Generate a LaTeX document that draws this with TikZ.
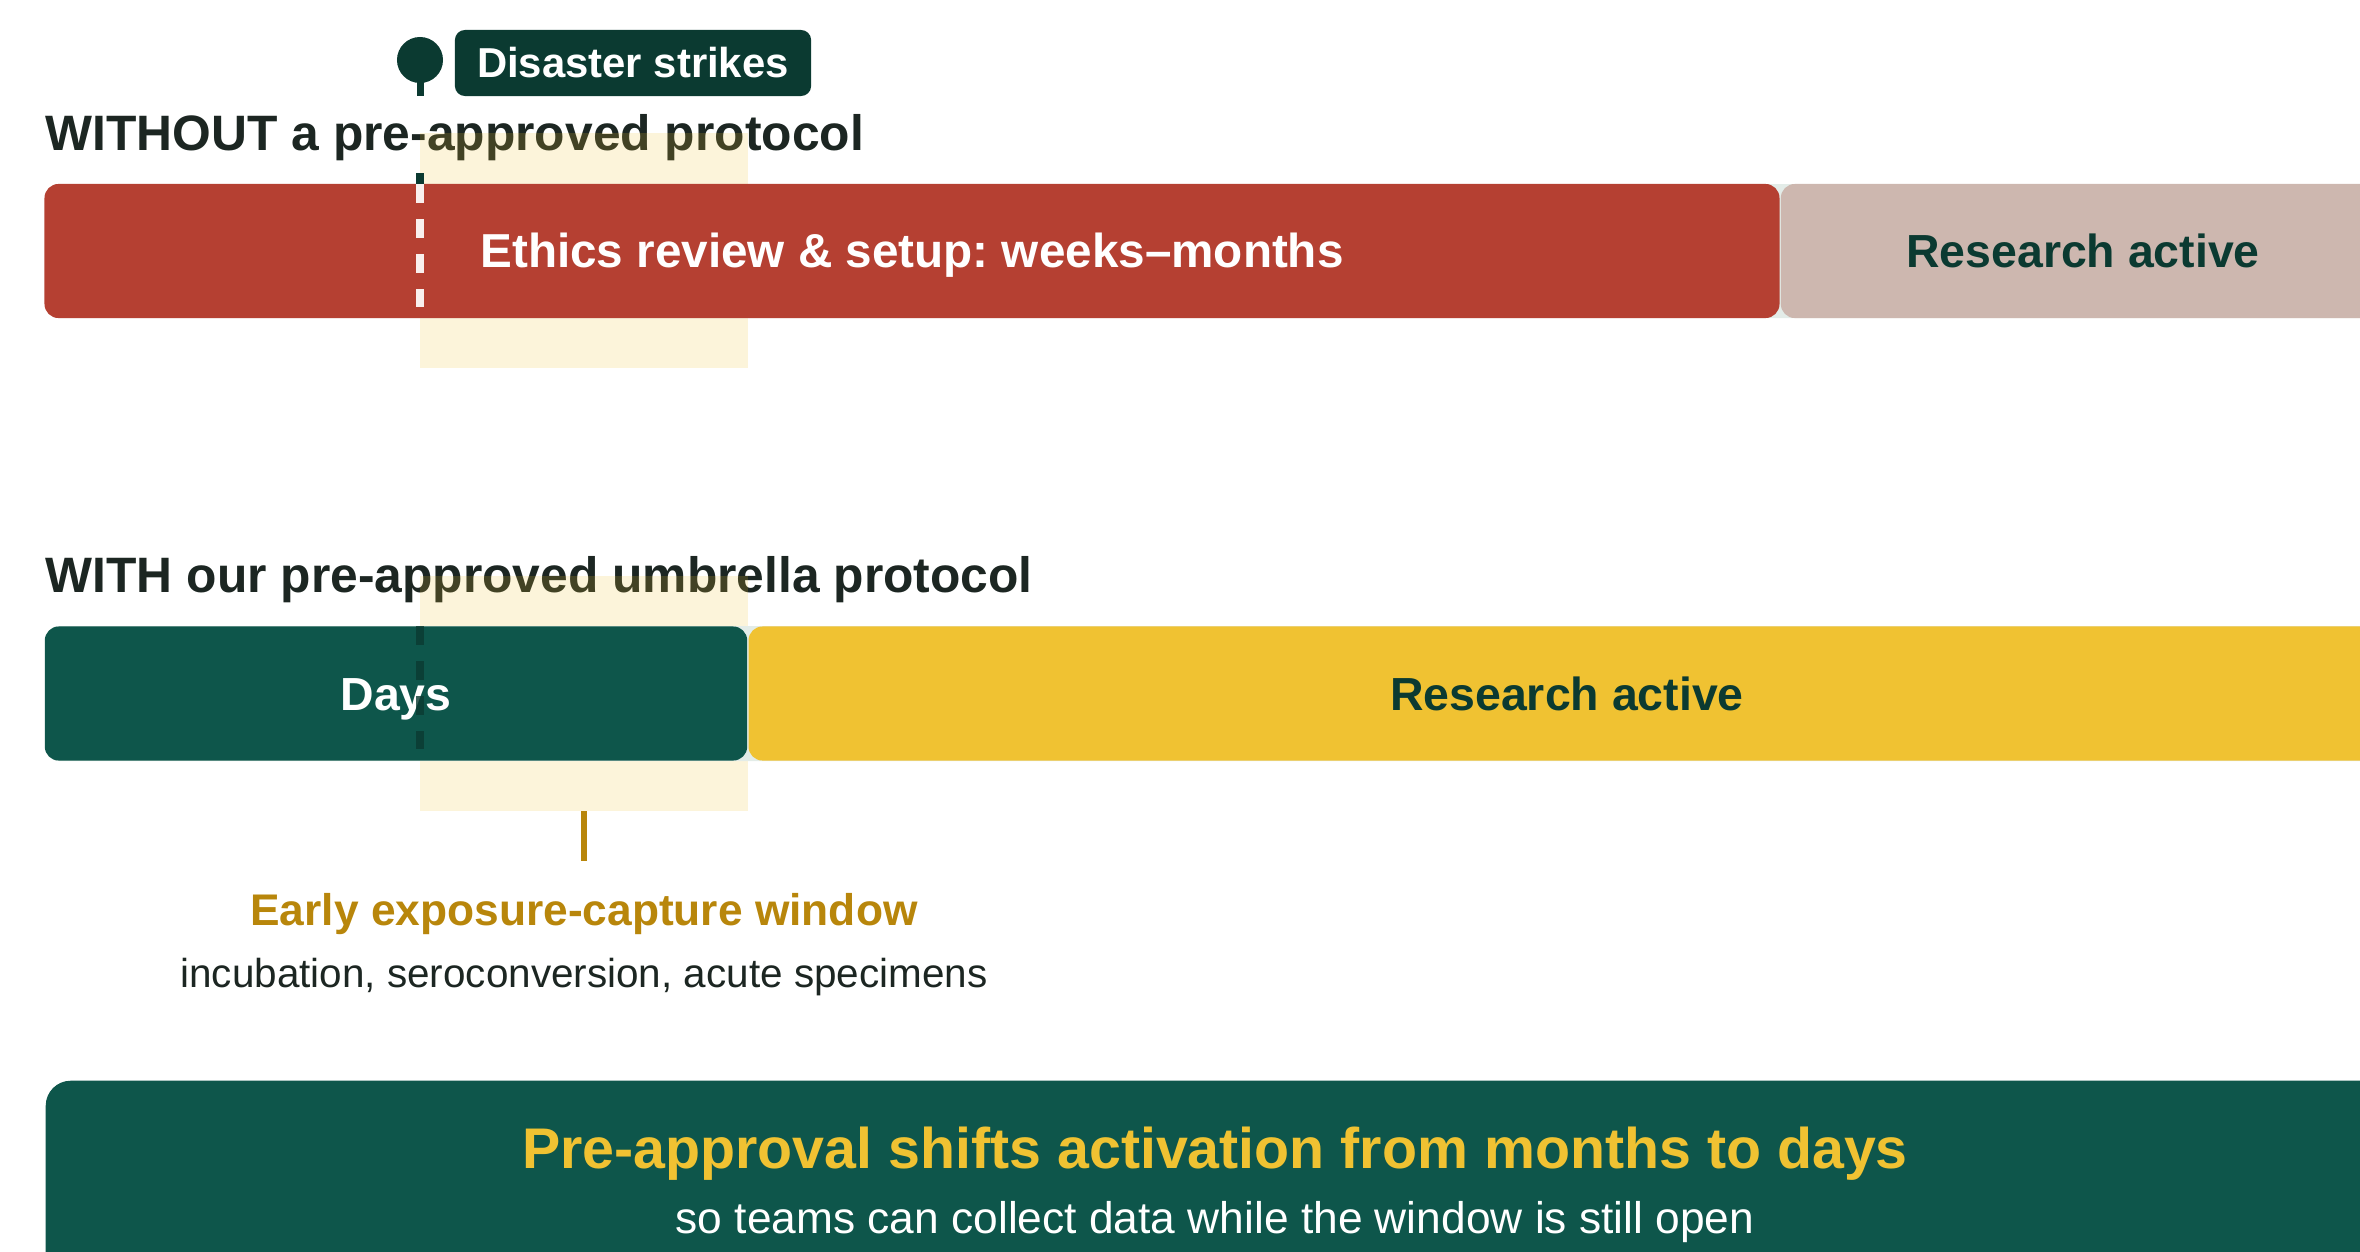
\documentclass[tikz,border=0pt]{standalone}
\usepackage{fontspec}
\setmainfont{Liberation Sans}
\definecolor{inkdark}{HTML}{1C2622}
\definecolor{pine}{HTML}{0B3A31}
\definecolor{forest}{HTML}{0E564B}
\definecolor{brick}{HTML}{B54032}
\definecolor{dusty}{HTML}{CDB7AF}
\definecolor{sun}{HTML}{F0C232}
\definecolor{ochre}{HTML}{B8860B}
\definecolor{track}{HTML}{E3ECE8}
\begin{document}
\begin{tikzpicture}[x=0.01cm, y=-0.01cm,
  heading/.style={anchor=base west, inner sep=0pt, text=inkdark,
    font=\bfseries\fontsize{14.15}{17}\selectfont},
  bar/.style={rectangle, rounded corners=0.14cm, inner sep=0pt,
    minimum height=1.34cm, text height=0.335cm, text depth=0pt,
    font=\bfseries\fontsize{13.2}{16}\selectfont},
  window/.style={fill=sun, fill opacity=0.18},
  dashline/.style={line width=0.075cm, dash pattern=on 0.19cm off 0.16cm},
]
\useasboundingbox (0,0) rectangle (2360,1251);
\clip (0,0) rectangle (2360,1251);

% section headings
\node[heading] (without) at (45,150) {WITHOUT a pre-approved protocol};
\node[heading] (with) at (45,592) {WITH our pre-approved umbrella protocol};

% early exposure-capture window, shaded behind both timelines
\fill[window] (420,133) rectangle (748,368);
\fill[window] (420,576) rectangle (748,811);

% timeline tracks
\fill[track, rounded corners=0.14cm] (45,184) rectangle (2385,318);
\fill[track, rounded corners=0.14cm] (45,626) rectangle (2385,761);

% timeline without protocol
\node[bar, fill=brick, text=white, minimum width=17.34cm,
  font=\bfseries\fontsize{13.55}{16}\selectfont\frenchspacing] (ethics) at (912,251)
  {Ethics review \& setup: weeks--months};
\node[bar, fill=dusty, text=pine, minimum width=6.04cm] (lateactive) at (2083,251)
  {Research active};

% timeline with protocol
\node[bar, fill=forest, text=white, minimum width=7.02cm] (days) at (396,693.5) {Days};
\node[bar, fill=sun, text=pine, minimum width=16.36cm] (active) at (1567,693.5)
  {Research active};

% disaster marker
\node[circle, fill=pine, minimum size=0.46cm, inner sep=0pt] (pin) at (420,60) {};
\coordinate (stemend) at (420,96);
\draw[pine, line width=0.07cm] (pin.center) -- (stemend);
\node[fill=pine, text=white, rounded corners=0.1cm, inner sep=0pt,
  minimum width=3.56cm, minimum height=0.66cm, text height=0.28cm, text depth=0pt,
  font=\bfseries\fontsize{11.9}{14}\selectfont] (strikes) at (633,63) {Disaster strikes};

% onset line across both timelines
\coordinate (cutA) at (420,173);
\coordinate (cutB) at (420,184);
\coordinate (cutC) at (420,307);
\coordinate (cutD) at (420,626);
\coordinate (cutE) at (420,749);
\draw[pine, line width=0.075cm] (cutA) -- (cutB);
\draw[white, opacity=0.92, dashline] (cutB) -- (cutC);
\draw[pine, opacity=0.8, dashline] (cutD) -- (cutE);

% window callout
\coordinate (ticktop) at (584,811);
\coordinate (tickbot) at (584,861);
\draw[ochre, line width=0.055cm] (ticktop) -- (tickbot);
\node[anchor=base, inner sep=0pt, text=ochre,
  font=\bfseries\fontsize{12.6}{15}\selectfont] (early) at (584,925)
  {Early exposure-capture window};
\node[anchor=base, inner sep=0pt, text=inkdark,
  font=\fontsize{11.5}{14}\selectfont] (specimens) at (584,987)
  {incubation, seroconversion, acute specimens};

% summary banner
\node[fill=forest, rounded corners=0.25cm, inner sep=0pt, anchor=north west,
  minimum width=23.4cm, minimum height=2.6cm] (summary) at (45,1080) {};
\node[anchor=base, inner sep=0pt, text=sun,
  font=\bfseries\fontsize{16.3}{19}\selectfont] (claim) at (1215,1168)
  {Pre-approval shifts activation from months to days};
\node[anchor=base, inner sep=0pt, text=white,
  font=\fontsize{12.6}{15}\selectfont] (reason) at (1215,1233)
  {so teams can collect data while the window is still open};
\end{tikzpicture}
\end{document}
